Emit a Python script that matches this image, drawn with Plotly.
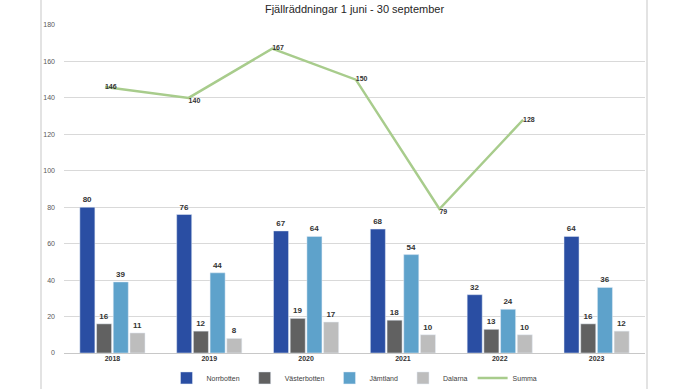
import plotly.graph_objects as go

years = ["2018", "2019", "2020", "2021", "2022", "2023"]
norrbotten = [80, 76, 67, 68, 32, 64]
vasterbotten = [16, 12, 19, 18, 13, 16]
jamtland = [39, 44, 64, 54, 24, 36]
dalarna = [11, 8, 17, 10, 10, 12]
summa = [146, 140, 167, 150, 79, 128]
y_ticks = [0, 20, 40, 60, 80, 100, 120, 140, 160, 180]

bar_series = [
    ("Norrbotten", norrbotten, "#2a4ea3"),
    ("Västerbotten", vasterbotten, "#616161"),
    ("Jämtland", jamtland, "#5ea2cb"),
    ("Dalarna", dalarna, "#bdbdbd"),
]

fig = go.Figure()
for name, vals, col in bar_series:
    fig.add_trace(go.Bar(
        x=years, y=vals, name=name, marker_color=col,
        text=[str(v) for v in vals], textposition="outside",
        texttemplate="<b>%{text}</b>",
        textfont=dict(size=8, color="#333333", family="Liberation Sans"),
        cliponaxis=False,
    ))

fig.add_trace(go.Scatter(
    x=years, y=summa, name="Summa", mode="lines+text", xaxis="x2",
    line=dict(color="#a8cc8c", width=2.5),
    text=[str(v) for v in summa], texttemplate="<b>%{text}</b>",
    textposition=["middle right", "bottom right", "middle right", "middle right", "bottom right", "middle right"],
    textfont=dict(size=7, color="#333333", family="Liberation Sans"),
    cliponaxis=False,
))

fig.update_layout(
    width=692, height=389,
    margin=dict(l=64, r=47, t=25, b=36, autoexpand=False),
    paper_bgcolor="white", plot_bgcolor="white",
    title=dict(text="Fjällräddningar 1 juni - 30 september", x=0.5, xanchor="center",
               xref="paper", y=0.976, yanchor="middle",
               font=dict(size=11, color="#262626", family="Liberation Sans")),
    barmode="group", bargap=0.31, bargroupgap=0.1,
    xaxis=dict(type="category", showgrid=False, zeroline=False, showline=False,
               ticks="", tickfont=dict(size=7, color="#333333", family="Liberation Sans"),
               tickprefix="<b>", ticksuffix="</b>", automargin=False),
    xaxis2=dict(type="category", overlaying="x", range=[-0.49, 6.458], visible=False),
    yaxis=dict(range=[0, 180], tickvals=y_ticks, showgrid=True, gridcolor="#d9d9d9", gridwidth=1,
               zeroline=True, zerolinecolor="#c8c8c8", zerolinewidth=1, showline=False,
               ticks="", tickfont=dict(size=7, color="#595959", family="Liberation Sans"),
               ticklabelstandoff=8, automargin=False),
    legend=dict(orientation="h", x=0.5, xanchor="center", y=-0.076, yanchor="middle",
                font=dict(size=7, color="#404040", family="Liberation Sans"),
                itemwidth=30, tracegroupgap=0),
    showlegend=True,
)

fig.add_shape(type="line", xref="paper", yref="paper", x0=-0.0396, x1=-0.0396, y0=-0.11, y1=1.08,
              line=dict(color="#e3e3e3", width=2))
fig.add_shape(type="line", xref="paper", yref="paper", x0=1.0034, x1=1.0034, y0=-0.11, y1=1.08,
              line=dict(color="#e3e3e3", width=2))

fig.write_html("out.html", config={"displayModeBar": False},
               post_script="document.body.style.margin='0';document.body.style.overflow='hidden';")
